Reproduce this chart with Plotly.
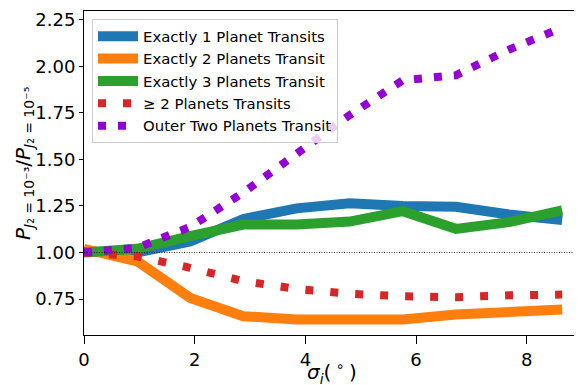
import plotly.graph_objects as go

sigma_i = [0.0, 0.96, 1.92, 2.88, 3.84, 4.80, 5.76, 6.72, 7.68, 8.64]
exactly_1 = [1.005, 1.00, 1.06, 1.18, 1.237, 1.265, 1.25, 1.246, 1.204, 1.174]
exactly_2 = [1.02, 0.953, 0.756, 0.658, 0.64, 0.638, 0.64, 0.667, 0.685, 0.694]
exactly_3 = [1.0, 1.02, 1.088, 1.15, 1.15, 1.166, 1.222, 1.127, 1.163, 1.226]
ge_2 = [1.0, 0.98, 0.918, 0.846, 0.805, 0.778, 0.765, 0.76, 0.77, 0.774]
outer_two = [1.0, 1.025, 1.138, 1.322, 1.53, 1.738, 1.925, 1.952, 2.09, 2.208]

x_ticks = [0, 2, 4, 6, 8]
y_ticks = [0.75, 1.00, 1.25, 1.50, 1.75, 2.00, 2.25]
y_tick_text = ["0.75", "1.00", "1.25", "1.50", "1.75", "2.00", "2.25"]

FONT = "DejaVu Sans"
W, H = 574, 377          # page body has an 8px margin
L, R, T, B = 76, 1, 3, 50
PW, PH = W - L - R, H - T - B

fig = go.Figure()
fig.add_trace(go.Scatter(x=sigma_i, y=exactly_1, mode="lines", name="Exactly 1 Planet Transits",
                         line=dict(color="#1f77b4", width=10)))
fig.add_trace(go.Scatter(x=sigma_i, y=exactly_2, mode="lines", name="Exactly 2 Planets Transit",
                         line=dict(color="#ff7f0e", width=10)))
fig.add_trace(go.Scatter(x=sigma_i, y=exactly_3, mode="lines", name="Exactly 3 Planets Transit",
                         line=dict(color="#2ca02c", width=10)))
fig.add_trace(go.Scatter(x=sigma_i, y=ge_2, mode="lines", name="≥ 2 Planets Transits",
                         line=dict(color="#d62728", width=8, dash="8px,17px")))
fig.add_trace(go.Scatter(x=sigma_i, y=outer_two, mode="lines", name="Outer Two Planets Transit",
                         line=dict(color="#9400d3", width=8, dash="8px,12px")))

fig.add_hline(y=1.0, line=dict(color="black", width=0.8, dash="1px,1.5px"), layer="above")

fig.update_layout(
    width=W, height=H,
    margin=dict(l=L, r=R, t=T, b=B, autoexpand=False),
    paper_bgcolor="white", plot_bgcolor="white",
    font=dict(family=FONT, color="black", size=18),
    showlegend=True,
    legend=dict(x=8 / PW, y=1 - 8 / PH, xanchor="left", yanchor="top",
                bgcolor="rgba(255,255,255,0.8)", bordercolor="#cccccc", borderwidth=1,
                font=dict(family=FONT, size=14.9, color="black"),
                itemwidth=40, tracegroupgap=0),
    xaxis=dict(range=[0, 8.98], tickvals=x_ticks, ticks="outside", ticklen=8, tickwidth=1,
               tickcolor="black", showline=True, linecolor="black", linewidth=1, mirror=True,
               showgrid=False, zeroline=False, tickfont=dict(size=18), automargin=False),
    yaxis=dict(range=[0.557, 2.297], tickvals=y_ticks, ticktext=y_tick_text, ticks="outside",
               ticklen=4, tickwidth=1, tickcolor="black", showline=True, linecolor="black",
               linewidth=1, mirror=True, showgrid=False, zeroline=False, tickfont=dict(size=18),
               automargin=False),
    annotations=[
        dict(text="<i>σ<sub>i</sub></i>(<sup> ∘ </sup>)", xref="paper", yref="paper",
             x=(324 - L) / PW, y=-(364 - (T + PH)) / PH, xanchor="center", yanchor="middle",
             showarrow=False, font=dict(family=FONT, size=20)),
        dict(text="<i>P</i><sub><i>J</i>₂ = 10⁻³</sub>/<i>P</i><sub><i>J</i>₂ = 10⁻⁵</sub>",
             xref="paper", yref="paper", x=-(L - 16) / PW, y=1 - (156 - T) / PH,
             xanchor="center", yanchor="middle", textangle=-90, showarrow=False,
             font=dict(family=FONT, size=20)),
    ],
)

fig.write_html("out.html")
